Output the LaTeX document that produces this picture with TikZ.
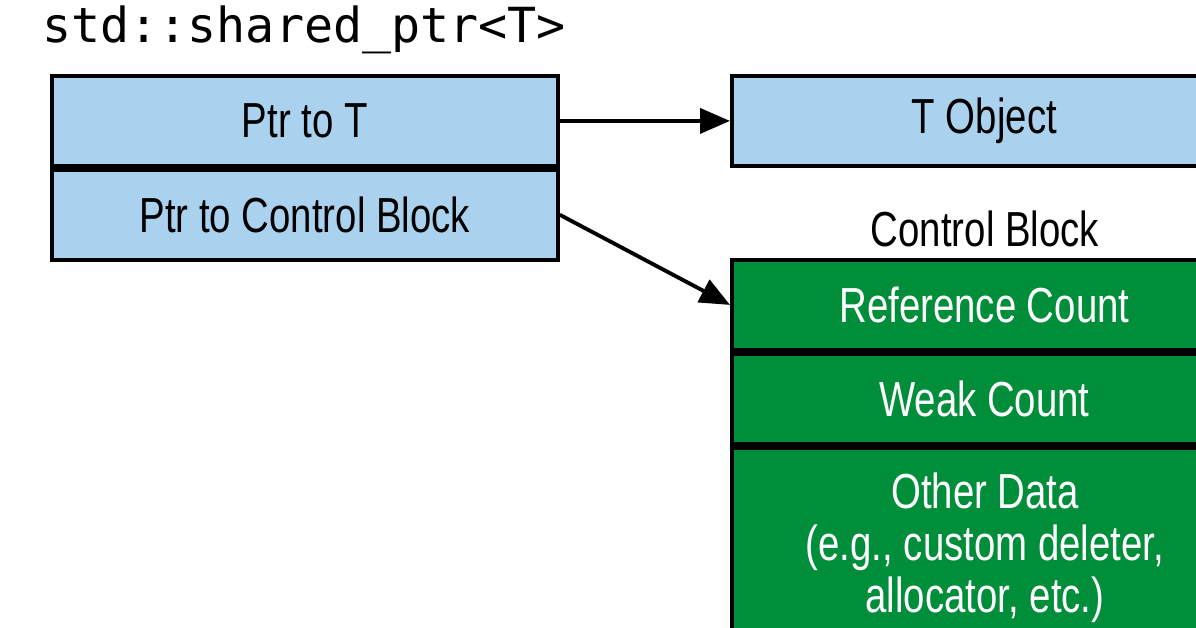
\documentclass[tikz,border=0pt]{standalone}
\usepackage{fontspec}
\setmainfont{Liberation Sans}[FakeStretch=0.78]
\newfontfamily\monofont{DejaVu Sans Mono}
\usetikzlibrary{positioning}
\usetikzlibrary{arrows.meta}
\definecolor{ptrblue}{RGB}{170,210,238}
\definecolor{cbgreen}{RGB}{0,142,58}
\tikzset{line/.style={draw, line width=2.2pt, -{Triangle[length=6mm,width=5mm]}}}

\begin{document}
\begin{tikzpicture}[x=0.02cm, y=-0.02cm,
	box/.style={draw, line width=2.2pt, minimum height=1.8cm, inner sep=0pt, font=\fontsize{28}{30}\selectfont},
	ptr/.style={box, fill=ptrblue, minimum width=10.12cm},
	cb/.style={box, fill=cbgreen, text=white, minimum width=10cm}]
	\clip (0,0) rectangle (1196,628);
	\fill[white] (0,0) rectangle (1196,628);
	\node[anchor=west, inner sep=0pt, font=\monofont\fontsize{27.5}{30}\selectfont] at (42, 30) (title) {std::shared\_ptr<T>};
	
	\node[ptr, anchor=north west] at (50, 74) (ptrt) {Ptr to T};
	\node[ptr, below=0mm of ptrt] (ptrcb) {Ptr to Control Block};
	
	\node[ptr, anchor=north west, minimum width=10.1cm] at (730, 74) (tobj) {T Object};
	
	\node[cb, anchor=north west, minimum width=10.1cm] at (730, 258) (refc) {Reference Count};
	\node[cb, below=0mm of refc, minimum width=10.1cm] (weakc) {Weak Count};
	\node[cb, below=0mm of weakc, minimum height=4cm, minimum width=10.1cm, anchor=north] (other) {};
	\node[align=center, font=\fontsize{28}{29.5}\selectfont, text=white] at (985, 548) (otxt) {Other Data\\(e.g., custom deleter,\\allocator, etc.)};
	\node[font=\fontsize{28}{30}\selectfont, above=0.1cm of refc.north west, xshift=5.1cm] (cblabel) {Control Block};
	
	\path[line] (ptrt.east) -- (tobj.west);
	\path[line] (ptrcb.east) -- (refc.west);
\end{tikzpicture}
\end{document}
